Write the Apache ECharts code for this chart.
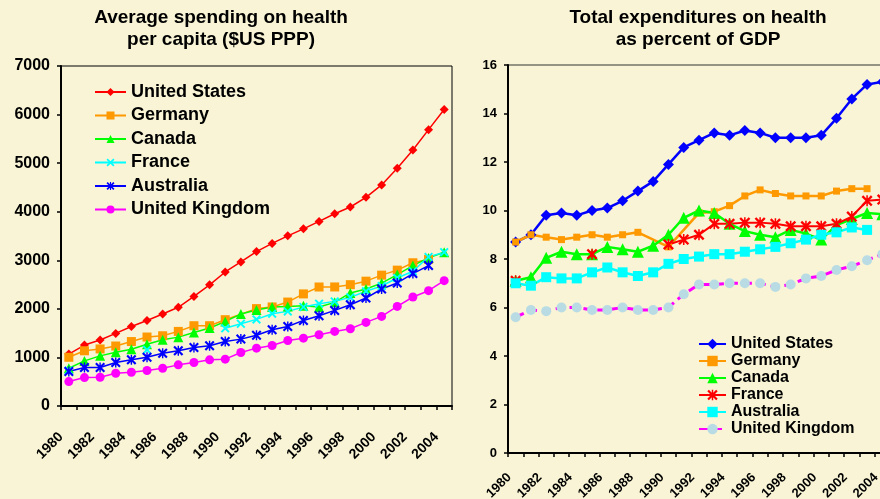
<!DOCTYPE html>
<html>
<head>
<meta charset="utf-8">
<script src="https://cdn.jsdelivr.net/npm/echarts@6/dist/echarts.min.js"></script>
<style>
html, body { margin: 0; padding: 0; background: #F8F4D5; }
#chart { width: 880px; height: 499px; }
</style>
</head>
<body>
<div id="chart"></div>
<script>
const years = ['1980', '1981', '1982', '1983', '1984', '1985', '1986', '1987', '1988', '1989',
  '1990', '1991', '1992', '1993', '1994', '1995', '1996', '1997', '1998', '1999',
  '2000', '2001', '2002', '2003', '2004'];
const countries = ['United States', 'Germany', 'Canada', 'France', 'Australia', 'United Kingdom'];

// spending per capita, $US PPP
const usPc = [1070, 1255, 1360, 1495, 1636, 1760, 1895, 2032, 2256, 2494, 2759, 2966, 3179, 3348, 3503, 3648, 3800, 3959, 4097, 4297, 4552, 4897, 5269, 5690, 6103];
const dePc = [1003, 1137, 1175, 1235, 1327, 1420, 1446, 1536, 1653, 1653, 1777, null, 2005, 2039, 2140, 2308, 2450, 2451, 2498, 2570, 2694, 2797, 2949, 3018, null];
const caPc = [778, 929, 1032, 1108, 1170, 1273, 1363, 1418, 1514, 1604, 1741, 1893, 1975, 2038, 2051, 2065, 2038, 2134, 2327, 2409, 2530, 2705, 2891, 3049, 3166];
const frPc = [730, null, null, null, null, 1157, null, null, null, null, 1600, 1693, 1783, 1900, 1948, 2038, 2106, 2154, 2237, 2361, 2470, 2636, 2774, 3070, 3166];
const auPc = [709, 791, 791, 895, 950, 1005, 1088, 1136, 1205, 1239, 1329, 1377, 1455, 1569, 1638, 1762, 1858, 1968, 2085, 2223, 2409, 2533, 2726, 2891, null];
const ukPc = [503, 585, 592, 675, 696, 730, 778, 847, 895, 950, 964, 1101, 1191, 1246, 1349, 1397, 1466, 1535, 1590, 1721, 1845, 2051, 2244, 2374, 2581];

// total expenditure, % of GDP
const usGdp = [8.7, 9.0, 9.8, 9.9, 9.8, 10.0, 10.1, 10.4, 10.8, 11.2, 11.9, 12.6, 12.9, 13.2, 13.1, 13.3, 13.2, 13.0, 13.0, 13.0, 13.1, 13.8, 14.6, 15.2, 15.3];
const deGdp = [8.7, 9.0, 8.9, 8.8, 8.9, 9.0, 8.9, 9.0, 9.1, null, 8.5, null, 9.9, 9.95, 10.2, 10.6, 10.85, 10.7, 10.6, 10.6, 10.6, 10.8, 10.9, 10.9, null];
const caGdp = [7.1, 7.25, 8.05, 8.3, 8.2, 8.2, 8.5, 8.4, 8.3, 8.55, 9.0, 9.7, 10.0, 9.9, 9.45, 9.15, 9.0, 8.9, 9.2, 9.05, 8.8, 9.4, 9.65, 9.9, 9.85];
const frGdp = [7.1, null, null, null, null, 8.2, null, null, null, null, 8.6, 8.8, 9.0, 9.45, 9.45, 9.5, 9.5, 9.45, 9.35, 9.35, 9.35, 9.45, 9.75, 10.4, 10.45];
const auGdp = [7.0, 6.9, 7.25, 7.2, 7.2, 7.45, 7.65, 7.45, 7.3, 7.45, 7.8, 8.0, 8.1, 8.2, 8.2, 8.3, 8.4, 8.5, 8.65, 8.8, 9.0, 9.1, 9.3, 9.2, null];
const ukGdp = [5.6, 5.9, 5.85, 6.0, 6.0, 5.9, 5.9, 6.0, 5.9, 5.9, 6.0, 6.55, 6.95, 6.95, 7.0, 7.0, 7.0, 6.85, 6.95, 7.2, 7.3, 7.55, 7.7, 7.95, 8.2];

const FONT = 'Liberation Sans, Arial, sans-serif';
const SUFFIX = ' (GDP)';
const crossPath = 'path://M0,1.5L1.5,0L5,3.5L8.5,0L10,1.5L6.5,5L10,8.5L8.5,10L5,6.5L1.5,10L0,8.5L3.5,5Z';
const starPath = crossPath + 'M4.3,0L5.7,0L5.7,10L4.3,10Z';

function makeSeries(name, data, idx, color, symbol, size, width, extra) {
  return Object.assign({
    type: 'line',
    name: name,
    data: data,
    xAxisIndex: idx,
    yAxisIndex: idx,
    symbol: symbol,
    symbolSize: size,
    showAllSymbol: true,
    connectNulls: false,
    animation: false,
    lineStyle: { color: color, width: width },
    itemStyle: { color: color }
  }, extra || {});
}

// padding on the right pushes rotated labels down-left, like the original
function xAxis(idx, fontSize, margin, pad) {
  return {
    type: 'category',
    gridIndex: idx,
    data: years,
    boundaryGap: true,
    axisLine: { lineStyle: { color: '#000', width: 2 } },
    axisTick: { show: true, interval: 0, length: 4, lineStyle: { color: '#000', width: 1.5 } },
    axisLabel: {
      interval: 1,
      rotate: 45,
      margin: margin,
      padding: [0, pad, 0, 0],
      color: '#000',
      fontWeight: 'bold',
      fontSize: fontSize,
      fontFamily: FONT
    },
    splitLine: { show: false }
  };
}

function yAxis(idx, max, interval, fontSize) {
  return {
    type: 'value',
    gridIndex: idx,
    min: 0,
    max: max,
    interval: interval,
    axisLine: { show: true, lineStyle: { color: '#000', width: 2 } },
    axisTick: { show: true, length: 4, lineStyle: { color: '#000', width: 1.5 } },
    axisLabel: {
      margin: 11,
      formatter: val => String(val),
      color: '#000',
      fontWeight: 'bold',
      fontSize: fontSize,
      fontFamily: FONT
    },
    splitLine: { show: false }
  };
}

const titleStyle = { color: '#000', fontWeight: 'bold', fontSize: 19, lineHeight: 22, fontFamily: FONT };

const option = {
  backgroundColor: '#F8F4D5',
  animation: false,
  title: [
    { text: 'Average spending on health\nper capita ($US PPP)', left: 216, top: 2, textAlign: 'center', textStyle: titleStyle },
    { text: 'Total expenditures on health\nas percent of GDP', left: 693, top: 2, textAlign: 'center', textStyle: titleStyle }
  ],
  grid: [
    {
      left: 61, top: 66, width: 391, height: 340, outerBoundsMode: 'none',
      show: true, borderColor: '#000', borderWidth: 1, backgroundColor: 'transparent'
    },
    {
      left: 508, top: 65, width: 382, height: 388, outerBoundsMode: 'none',
      show: true, borderColor: '#333', borderWidth: 1, backgroundColor: 'transparent'
    }
  ],
  legend: [
    {
      data: countries,
      orient: 'vertical',
      left: 94,
      top: 83,
      padding: 0,
      itemWidth: 31,
      itemHeight: 10,
      itemGap: 5.5,
      selectedMode: false,
      textStyle: { color: '#000', fontWeight: 'bold', fontSize: 18, fontFamily: FONT }
    },
    {
      data: countries.map(c => c + SUFFIX),
      orient: 'vertical',
      left: 698,
      top: 336,
      padding: 0,
      itemWidth: 27,
      itemHeight: 13,
      itemGap: 1,
      selectedMode: false,
      formatter: name => name.replace(SUFFIX, ''),
      textStyle: { color: '#000', fontWeight: 'bold', fontSize: 16, fontFamily: FONT }
    }
  ],
  xAxis: [xAxis(0, 14, 21, 11), xAxis(1, 13, 16, 9)],
  yAxis: [yAxis(0, 7000, 1000, 16), yAxis(1, 16, 2, 13)],
  series: [
    makeSeries('United States', usPc, 0, '#FF0000', 'diamond', 9, 1.5),
    makeSeries('Germany', dePc, 0, '#FF9900', 'rect', 9, 1.5, { connectNulls: true }),
    makeSeries('Canada', caPc, 0, '#00FF00', 'triangle', 10, 1.5),
    makeSeries('France', frPc, 0, '#00FFFF', crossPath, 9, 1.5),
    makeSeries('Australia', auPc, 0, '#0000FF', starPath, 10, 1.5),
    makeSeries('United Kingdom', ukPc, 0, '#FF00FF', 'circle', 9, 1.5),

    makeSeries('United States' + SUFFIX, usGdp, 1, '#0000FF', 'diamond', 11, 2.5),
    makeSeries('Germany' + SUFFIX, deGdp, 1, '#FF9900', 'rect', 7, 2.5, { connectNulls: true }),
    makeSeries('Canada' + SUFFIX, caGdp, 1, '#00FF00', 'triangle', 12, 2.5),
    makeSeries('France' + SUFFIX, frGdp, 1, '#FF0000', starPath, 11, 2),
    makeSeries('Australia' + SUFFIX, auGdp, 1, '#00FFFF', 'rect', 10, 2.5),
    makeSeries('United Kingdom' + SUFFIX, ukGdp, 1, '#FF00FF', 'circle', 10, 3, {
      lineStyle: { color: '#FF00FF', width: 3, type: [9, 5] },
      itemStyle: { color: '#B9DCE4' }
    })
  ]
};

const chart = echarts.init(document.getElementById('chart'), null, { renderer: 'canvas' });
chart.setOption(option);
</script>
</body>
</html>
